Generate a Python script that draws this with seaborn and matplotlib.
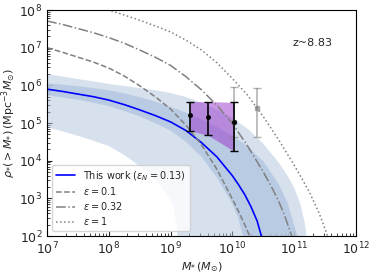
import numpy as np
import matplotlib
matplotlib.use("Agg")
import matplotlib.pyplot as plt
import seaborn as sns

# model curves, log10(M*) and log10(rho(>M*))
logm_blue = [7.0, 7.25, 7.5, 7.75, 8.0, 8.25, 8.5, 8.75, 9.0, 9.25, 9.5, 9.75,
             10.0, 10.1, 10.2, 10.3, 10.4, 10.46, 10.52]
logr_blue = [5.90, 5.84, 5.77, 5.70, 5.61, 5.49, 5.35, 5.20, 5.03, 4.80, 4.48, 4.10,
             3.60, 3.36, 3.10, 2.78, 2.40, 2.05, 1.7]

logm_eps01 = [7.0, 7.25, 7.5, 7.75, 8.0, 8.25, 8.5, 8.75, 9.0, 9.25, 9.5, 9.75,
              10.0, 10.1, 10.2, 10.3, 10.4]
logr_eps01 = [7.0, 6.88, 6.75, 6.62, 6.46, 6.25, 5.99, 5.70, 5.37, 4.94, 4.42, 3.77,
              2.98, 2.65, 2.30, 1.92, 1.5]

logm_eps032 = [7.0, 7.25, 7.5, 7.75, 8.0, 8.25, 8.5, 8.75, 9.0, 9.25, 9.5, 9.75,
               10.0, 10.25, 10.5, 10.65, 10.75, 10.85, 10.95, 11.05]
logr_eps032 = [7.71, 7.62, 7.51, 7.40, 7.27, 7.12, 6.94, 6.75, 6.53, 6.23, 5.88, 5.47,
               4.99, 4.38, 3.70, 3.25, 2.92, 2.52, 2.05, 1.55]

logm_eps1 = [7.0, 7.5, 7.75, 8.0, 8.25, 8.5, 8.75, 9.0, 9.25, 9.5, 9.75, 10.0,
             10.25, 10.5, 10.75, 11.0, 11.15, 11.25, 11.4, 11.53, 11.62]
logr_eps1 = [8.42, 8.24, 8.13, 8.0, 7.87, 7.73, 7.58, 7.42, 7.20, 6.94, 6.60, 6.18,
             5.73, 5.17, 4.55, 3.88, 3.45, 3.15, 2.62, 2.05, 1.6]

# uncertainty bands (outer = light, inner = dark)
logm_outer_hi = [7.0, 7.5, 8.0, 8.5, 8.75, 9.0, 9.25, 9.5, 9.75, 10.0, 10.25, 10.5,
                 10.75, 10.9, 11.0, 11.1, 11.17, 11.22]
logr_outer_hi = [6.30, 6.17, 6.04, 5.93, 5.87, 5.80, 5.69, 5.54, 5.36, 5.14, 4.84, 4.45,
                 3.95, 3.58, 3.28, 2.85, 2.35, 1.8]
logm_outer_lo = [7.0, 7.25, 7.5, 7.75, 8.0, 8.25, 8.5, 8.75, 8.9, 9.0, 9.05, 9.1, 9.13]
logr_outer_lo = [4.89, 4.78, 4.66, 4.53, 4.39, 4.15, 3.86, 3.49, 3.20, 2.95, 2.72, 2.25, 1.5]

logm_inner_hi = [7.0, 7.25, 7.5, 7.75, 8.0, 8.25, 8.5, 8.75, 9.0, 9.25, 9.5, 9.75,
                 10.0, 10.25, 10.5, 10.75, 10.9, 11.05, 11.1]
logr_inner_hi = [6.06, 6.02, 5.98, 5.93, 5.87, 5.79, 5.69, 5.57, 5.43, 5.28, 5.10, 4.90,
                 4.66, 4.38, 3.98, 3.38, 2.85, 2.0, 1.6]
logm_inner_lo = [7.0, 7.25, 7.5, 7.75, 8.0, 8.25, 8.5, 8.75, 9.0, 9.25, 9.5, 9.75,
                 10.0, 10.1, 10.17, 10.25]
logr_inner_lo = [5.74, 5.68, 5.62, 5.54, 5.45, 5.32, 5.18, 5.00, 4.80, 4.50, 4.10, 3.55,
                 2.85, 2.45, 2.0, 1.5]

# observed points (black) and the grey ones
logm_obs = [9.31, 9.61, 10.02]
logr_obs = [5.21, 5.16, 5.02]
logr_obs_hi = [5.57, 5.57, 5.55]
logr_obs_lo = [4.80, 4.67, 4.26]

logm_grey = [10.02, 10.40]
logr_grey = [5.02, 5.39]
logr_grey_hi = [5.95, 5.92]
logr_grey_lo = [4.62, 4.64]


def p(v):
    return 10 ** np.asarray(v, dtype=float)


sns.set_style("white")
plt.rcParams['font.family'] = ['DejaVu Sans']

fig = plt.figure(figsize=(3.74, 2.73), dpi=100)
ax = fig.add_axes([0.1257, 0.1355, 0.8262, 0.8275])
ax.set_xscale("log")
ax.set_yscale("log")

band_col = "#b0c4de"
ax.fill(np.r_[p(logm_outer_hi), p(logm_outer_lo)[::-1]],
        np.r_[p(logr_outer_hi), p(logr_outer_lo)[::-1]],
        color=band_col, alpha=0.5, lw=0)
ax.fill(np.r_[p(logm_inner_hi), p(logm_inner_lo)[::-1]],
        np.r_[p(logr_inner_hi), p(logr_inner_lo)[::-1]],
        color=band_col, alpha=0.75, lw=0)

sns.lineplot(x=p(logm_blue), y=p(logr_blue), ax=ax, color="blue", lw=1.2,
             sort=False, estimator=None, label=r"This work ($\epsilon_N=0.13$)")
sns.lineplot(x=p(logm_eps01), y=p(logr_eps01), ax=ax, color="gray", lw=1.1,
             linestyle="--", sort=False, estimator=None, label=r"$\epsilon=0.1$")
sns.lineplot(x=p(logm_eps032), y=p(logr_eps032), ax=ax, color="gray", lw=1.1,
             linestyle="-.", sort=False, estimator=None, label=r"$\epsilon=0.32$")
sns.lineplot(x=p(logm_eps1), y=p(logr_eps1), ax=ax, color="gray", lw=1.1,
             linestyle=":", sort=False, estimator=None, label=r"$\epsilon=1$")

ax.fill_between(p(logm_obs), p(logr_obs_lo), p(logr_obs_hi),
                color="darkorchid", alpha=0.5, lw=0)

gy = p(logr_grey)
ax.errorbar(p(logm_grey), gy, yerr=[gy - p(logr_grey_lo), p(logr_grey_hi) - gy],
            fmt="s", ms=2.5, color="gray", alpha=0.6, capsize=3, elinewidth=1.2)
oy = p(logr_obs)
ax.errorbar(p(logm_obs), oy, yerr=[oy - p(logr_obs_lo), p(logr_obs_hi) - oy],
            fmt="o", ms=2.5, color="black", capsize=3, elinewidth=1.2)

ax.set_xlim(1e7, 1e12)
ax.set_ylim(1e2, 1e8)
ax.tick_params(which="both", direction="in", bottom=True, left=True, labelsize=9)
ax.tick_params(which="major", length=3.5)
ax.tick_params(which="minor", length=2)

ax.set_xlabel(r"$M_{*}\,(M_{\odot})$", fontsize=8, labelpad=2)
ax.set_ylabel(r"$\rho_{*}(>M_{*})\,(\mathrm{Mpc}^{-3}M_{\odot})$", fontsize=8, labelpad=1)
ax.text(0.86, 0.855, "z~8.83", transform=ax.transAxes, fontsize=8,
        ha="center", va="center")

for s in ax.spines.values():
    s.set_color("black")
    s.set_linewidth(0.8)

ax.legend(loc="lower left", fontsize=7, frameon=True, framealpha=0.8,
          handlelength=2, borderpad=0.4, labelspacing=0.3)

fig.savefig("out.png", dpi=100)
